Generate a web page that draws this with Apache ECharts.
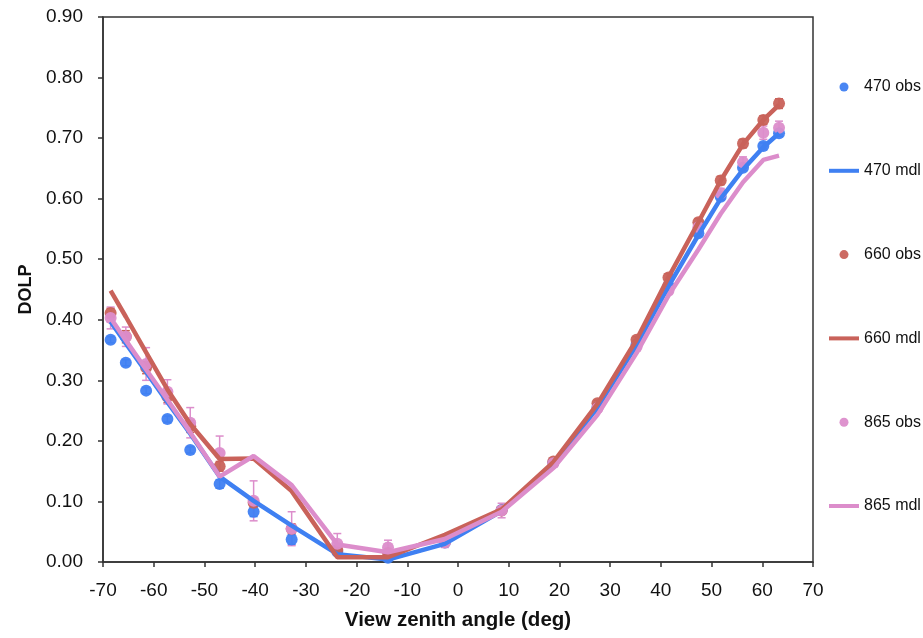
<!DOCTYPE html>
<html>
<head>
<meta charset="utf-8">
<script src="https://cdn.jsdelivr.net/npm/echarts@6/dist/echarts.min.js"></script>
<style>
html,body{margin:0;padding:0;background:#fff;}
#chart{width:923px;height:638px;}
</style>
</head>
<body>
<div id="chart"></div>
<script>
// View zenith angles (deg)
var angles = [-68.5, -65.5, -61.5, -57.3, -52.8, -47.0, -40.3, -32.8, -23.8, -13.8, -2.6, 8.6, 18.8, 27.5, 35.2, 41.5, 47.4, 51.8, 56.2, 60.2, 63.3];

// Observations
var obs470 = [0.367, 0.329, 0.283, 0.236, 0.185, 0.129, 0.083, 0.037, 0.017, 0.007, 0.032, 0.086, 0.164, 0.255, 0.359, 0.456, 0.543, 0.603, 0.651, 0.687, 0.708];
var obs660 = [0.411, 0.372, 0.321, 0.273, 0.224, 0.158, 0.098, 0.055, 0.020, 0.015, 0.033, 0.085, 0.166, 0.262, 0.367, 0.470, 0.561, 0.630, 0.691, 0.730, 0.757];
var obs865 = [0.403, 0.372, 0.327, 0.281, 0.230, 0.180, 0.101, 0.055, 0.030, 0.024, 0.032, 0.085, 0.163, 0.254, 0.355, 0.448, 0.553, 0.609, 0.660, 0.709, 0.717];

// Observation uncertainties (+/-)
var err470 = [0.005, 0.005, 0.005, 0.005, 0.005, 0.007, 0.008, 0.008, 0.005, 0.004, 0.004, 0.005, 0.004, 0.004, 0.004, 0.004, 0.005, 0.005, 0.005, 0.005, 0.005];
var err660 = [0.008, 0.010, 0.010, 0.010, 0.010, 0.008, 0.008, 0.008, 0.006, 0.005, 0.005, 0.005, 0.005, 0.005, 0.005, 0.006, 0.006, 0.007, 0.007, 0.007, 0.008];
var err865 = [0.018, 0.016, 0.027, 0.020, 0.025, 0.028, 0.033, 0.028, 0.017, 0.012, 0.008, 0.012, 0.006, 0.006, 0.006, 0.006, 0.007, 0.008, 0.009, 0.011, 0.011];

// Model values
var mdl470 = [0.397, 0.361, 0.314, 0.264, 0.212, 0.141, 0.101, 0.060, 0.013, 0.004, 0.030, 0.084, 0.160, 0.255, 0.358, 0.455, 0.540, 0.600, 0.648, 0.685, 0.708];
var mdl660 = [0.448, 0.405, 0.346, 0.285, 0.228, 0.170, 0.171, 0.117, 0.008, 0.008, 0.045, 0.087, 0.165, 0.261, 0.367, 0.470, 0.561, 0.630, 0.690, 0.730, 0.755];
var mdl865 = [0.403, 0.366, 0.318, 0.268, 0.214, 0.141, 0.175, 0.127, 0.029, 0.016, 0.038, 0.083, 0.155, 0.243, 0.345, 0.440, 0.516, 0.575, 0.627, 0.664, 0.671];

var xTicks = {min: -70, max: 70, interval: 10};
var yTicks = {min: 0, max: 0.9, interval: 0.1};

var names = ['470 obs', '470 mdl', '660 obs', '660 mdl', '865 obs', '865 mdl'];
var colors = {b: '#3f80f2', r: '#c9625a', p: '#dc8dcb'};

function pairs(xs, ys) { return xs.map(function (x, i) { return [x, ys[i]]; }); }
function errData(xs, ys, es) { return xs.map(function (x, i) { return [x, ys[i] - es[i], ys[i] + es[i]]; }); }

function errSeries(data, color) {
  return {
    type: 'custom',
    silent: true,
    data: data,
    encode: {x: 0, y: [1, 2]},
    renderItem: function (params, api) {
      var lo = api.coord([api.value(0), api.value(1)]);
      var hi = api.coord([api.value(0), api.value(2)]);
      var w = 4;
      var st = {stroke: color, lineWidth: 1.5};
      return {
        type: 'group',
        children: [
          {type: 'line', shape: {x1: lo[0], y1: lo[1], x2: hi[0], y2: hi[1]}, style: st},
          {type: 'line', shape: {x1: lo[0] - w, y1: lo[1], x2: lo[0] + w, y2: lo[1]}, style: st},
          {type: 'line', shape: {x1: hi[0] - w, y1: hi[1], x2: hi[0] + w, y2: hi[1]}, style: st}
        ]
      };
    }
  };
}
function obsSeries(name, data, color) {
  return {name: name, type: 'scatter', data: data, symbol: 'circle', symbolSize: 12,
          itemStyle: {color: color, opacity: 0.95}};
}
function mdlSeries(name, data, color) {
  return {name: name, type: 'line', data: data, symbol: 'none', showSymbol: false,
          lineStyle: {color: color, width: 4.5}, itemStyle: {color: color}};
}

var chart = echarts.init(document.getElementById('chart'), null, {renderer: 'canvas'});
var font = '"Liberation Sans", Arial, Helvetica, sans-serif';
chart.setOption({
  animation: false,
  backgroundColor: '#fff',
  textStyle: {fontFamily: font},
  grid: {left: 103, right: 110, top: 17, bottom: 76, show: true, borderColor: '#333', borderWidth: 1.5},
  legend: {
    data: names.map(function (n) {
      return {name: n, icon: n.indexOf('obs') >= 0 ? 'circle' : 'path://M0,0 L30,0 L30,4 L0,4 Z'};
    }),
    orient: 'vertical',
    left: 829,
    top: 79,
    padding: 0,
    itemWidth: 30,
    itemHeight: 9,
    itemGap: 67.8,
    textStyle: {fontSize: 16, color: '#111', fontFamily: font, lineHeight: 16}
  },
  xAxis: {
    type: 'value',
    min: xTicks.min, max: xTicks.max, interval: xTicks.interval,
    name: 'View zenith angle (deg)',
    nameLocation: 'middle',
    nameGap: 48,
    nameTextStyle: {fontSize: 20.5, fontWeight: 'bold', color: '#111', fontFamily: font},
    axisLine: {onZero: false, lineStyle: {color: '#333', width: 1.5}},
    axisTick: {show: true, inside: false, length: 5, lineStyle: {color: '#333', width: 1.5}},
    axisLabel: {fontSize: 19, color: '#111', margin: 19, fontFamily: font},
    splitLine: {show: false}
  },
  yAxis: {
    type: 'value',
    min: yTicks.min, max: yTicks.max, interval: yTicks.interval,
    name: 'DOLP',
    nameLocation: 'middle',
    nameGap: 68,
    nameRotate: 90,
    nameTextStyle: {fontSize: 18, fontWeight: 'bold', color: '#111', fontFamily: font},
    axisLine: {show: true, onZero: false, lineStyle: {color: '#333', width: 1.5}},
    axisTick: {show: true, inside: false, length: 5, lineStyle: {color: '#333', width: 1.5}},
    axisLabel: {fontSize: 19, color: '#111', margin: 20, fontFamily: font,
                formatter: function (v) { return v.toFixed(2); }},
    splitLine: {show: false}
  },
  series: [
    errSeries(errData(angles, obs470, err470), colors.b),
    obsSeries('470 obs', pairs(angles, obs470), colors.b),
    mdlSeries('470 mdl', pairs(angles, mdl470), colors.b),
    errSeries(errData(angles, obs660, err660), colors.r),
    obsSeries('660 obs', pairs(angles, obs660), colors.r),
    mdlSeries('660 mdl', pairs(angles, mdl660), colors.r),
    errSeries(errData(angles, obs865, err865), colors.p),
    obsSeries('865 obs', pairs(angles, obs865), colors.p),
    mdlSeries('865 mdl', pairs(angles, mdl865), colors.p)
  ]
});
</script>
</body>
</html>
